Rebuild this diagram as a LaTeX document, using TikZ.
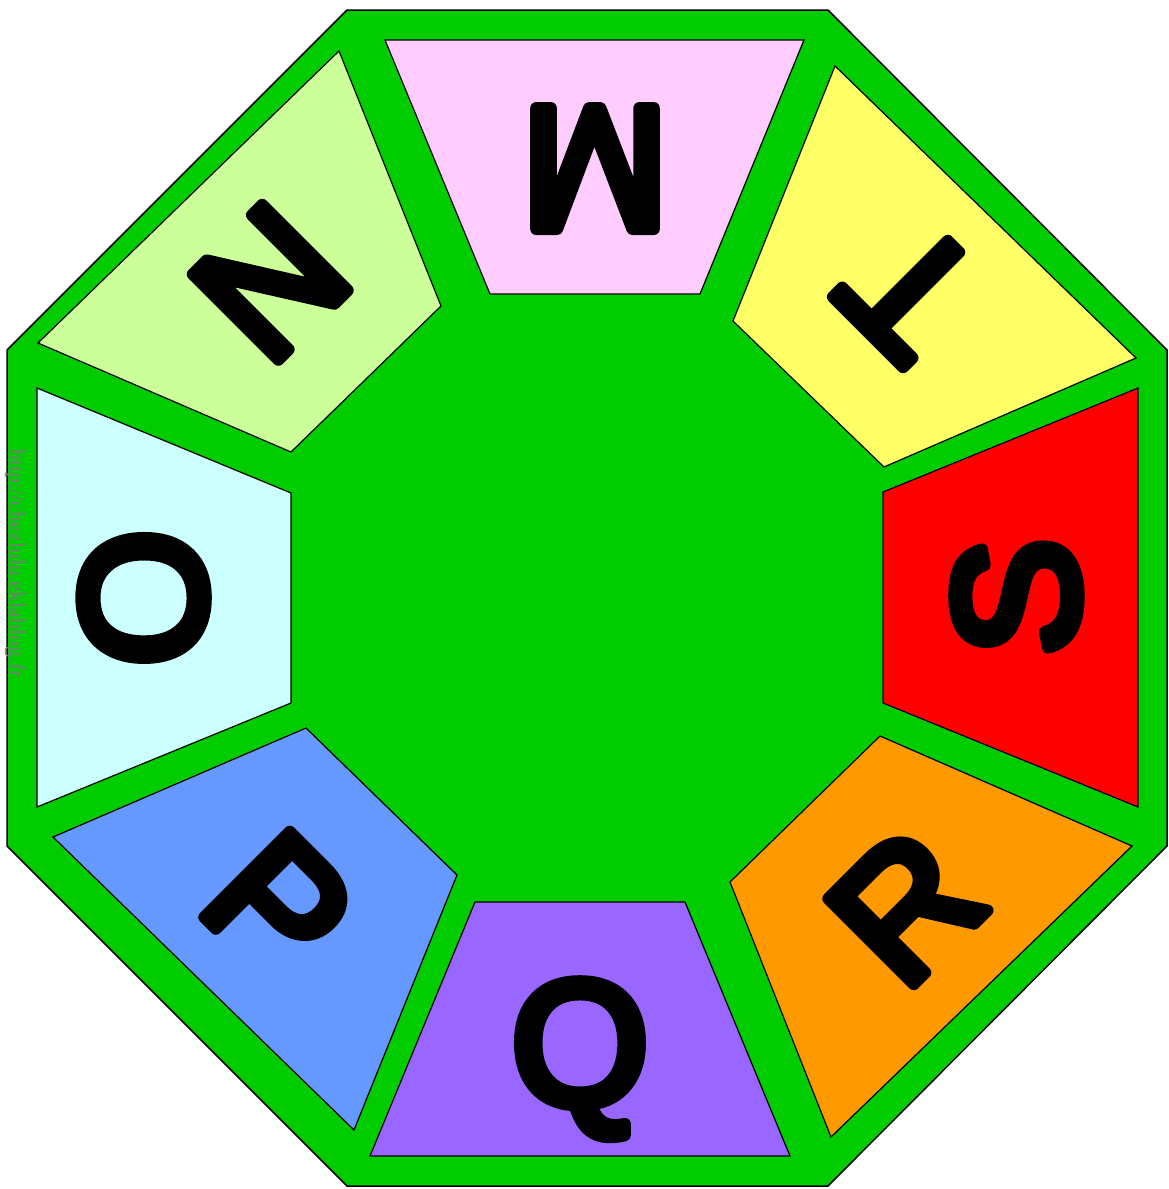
\documentclass[tikz,border=0pt]{standalone}
\usepackage{fontspec}
\setmainfont{Liberation Sans}
\newfontfamily\letterfont[FakeBold=6.7]{Liberation Sans}
\newfontfamily\wmfont{Liberation Serif}
\definecolor{bggreen}{HTML}{00CC00}
\definecolor{cpink}{HTML}{FFCCFF}
\definecolor{cyellow}{HTML}{FFFF66}
\definecolor{cred}{HTML}{FF0000}
\definecolor{corange}{HTML}{FF9900}
\definecolor{cpurple}{HTML}{9966FF}
\definecolor{cblue}{HTML}{6699FF}
\definecolor{ccyan}{HTML}{CCFFFF}
\definecolor{clgreen}{HTML}{CCFF99}
\definecolor{wmgray}{RGB}{118,128,118}
\tikzset{
  octa/.style={draw=black, line width=1.5pt, fill=bggreen, line join=miter},
  seg/.style={draw=black, line width=1.2pt, line join=miter},
  letter/.style={font=\letterfont\fontsize{176}{176}\selectfont, inner sep=0pt,
    text height=126pt, text depth=0pt, anchor=center, line join=round, text=black},
  wm/.style={font=\wmfont\fontsize{22}{22}\selectfont, text=wmgray, inner sep=0pt}
}
\begin{document}
\begin{tikzpicture}[x=1pt,y=-1pt]
\useasboundingbox (0,0) rectangle (1169,1189);
% outer octagon
\draw[octa] (347,10) -- (828,10) -- (1167,350) -- (1167,846) -- (828,1186) -- (347,1186) -- (7,846) -- (7,350) -- cycle;
% segments
\draw[seg, fill=cpink]   (385,40) -- (804,40) -- (700,294) -- (490,294) -- cycle;
\draw[seg, fill=cyellow] (835,66) -- (1136,358) -- (884,467) -- (733,321) -- cycle;
\draw[seg, fill=cred]    (1138,388) -- (1138,807) -- (883,703) -- (883,492) -- cycle;
\draw[seg, fill=corange] (1132,846) -- (831,1137) -- (730,882) -- (880,736) -- cycle;
\draw[seg, fill=cpurple] (790,1156) -- (370,1156) -- (475,902) -- (685,902) -- cycle;
\draw[seg, fill=cblue]   (354,1130) -- (53,837) -- (306,728) -- (457,875) -- cycle;
\draw[seg, fill=ccyan]   (37,807) -- (37,388) -- (291,493) -- (291,703) -- cycle;
\draw[seg, fill=clgreen] (38,343) -- (339,51) -- (441,306) -- (291,452) -- cycle;
% letters
\node[letter, rotate=180]  (m) at (595,171) {M};
\node[letter, rotate=135]  (t) at (909,291) {T};
\node[letter, rotate=90]   (s) at (1014,597) {S};
\node[letter, rotate=45]   (r) at (904,905) {R};
\node[letter, rotate=0]    (q) at (580,1041) {Q};
\node[letter, rotate=-45]  (p) at (280,904) {P};
\node[letter, rotate=-90]  (o) at (146,598) {O};
\node[letter, rotate=-135] (n) at (272,284) {N};
% watermark
\node[wm, rotate=-90, anchor=west] (url) at (15,449) {http://chezlulu.eklablog.fr};
\end{tikzpicture}
\end{document}
